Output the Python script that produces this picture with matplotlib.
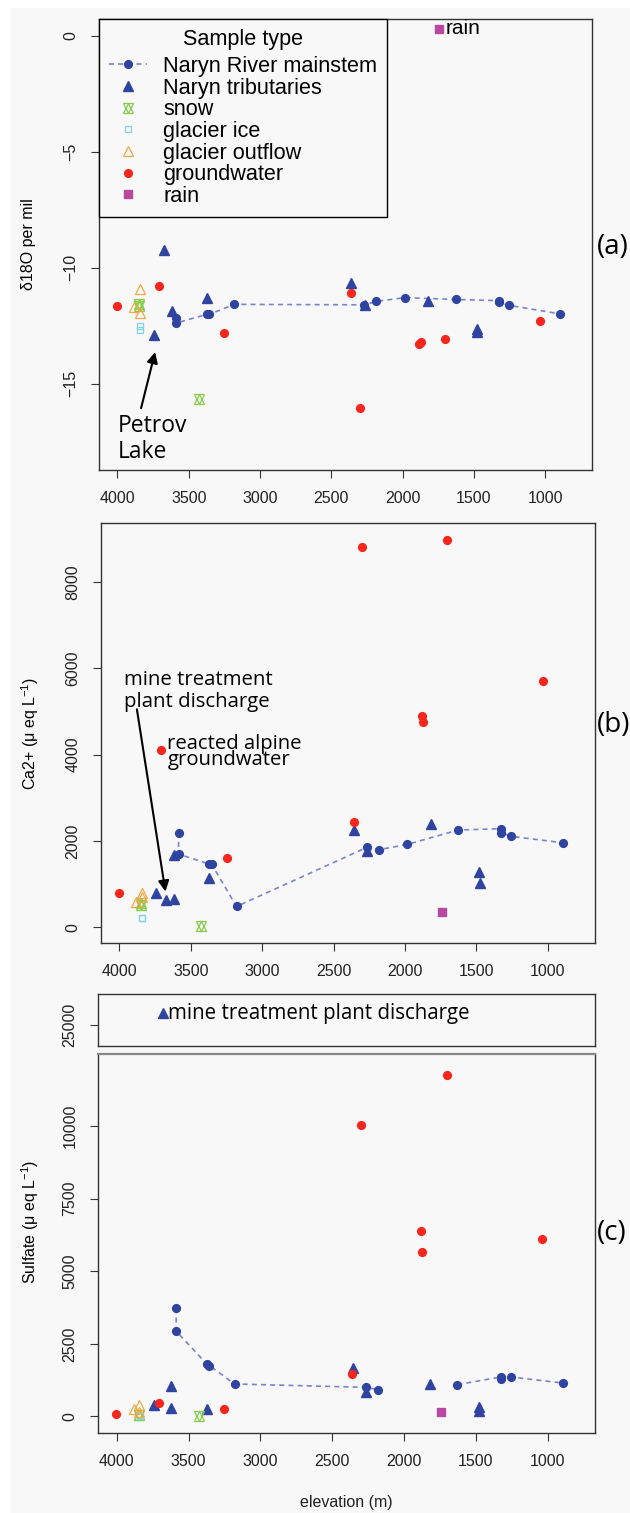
import numpy as np
import matplotlib
matplotlib.use('Agg')
import matplotlib.pyplot as plt
from matplotlib.lines import Line2D
from matplotlib.legend_handler import HandlerTuple
from matplotlib.patches import Rectangle

plt.rcParams['font.family'] = ['Liberation Sans', 'DejaVu Sans']
plt.rcParams['mathtext.fontset'] = 'custom'
plt.rcParams['mathtext.rm'] = 'Liberation Sans'
plt.rcParams['mathtext.it'] = 'Liberation Sans:italic'
plt.rcParams['axes.unicode_minus'] = True

nan = np.nan
# ---------------- data ----------------
main_elev = [3586, 3586, 3372, 3355, 3180, 2267, 2183, 1983, 1628, 1326, 1326, 1255, 895]
main_d18o = [-12.15, -12.38, -12.01, -12.01, -11.58, -11.60, -11.45, -11.29, -11.37, -11.42, -11.49, -11.62, -11.99]
main_ca = [2190, 1694, 1462, 1462, 480, 1849, 1795, 1919, 2251, 2282, 2190, 2104, 1957]
main_so4 = [3721, 2938, 1797, 1751, 1118, 1002, 922, nan, 1094, 1359, 1279, 1359, 1152]

trib_elev = [3741, 3675, 3620, 3620, 3370, 2358, 2265, 1819, 1479, 1478]
trib_d18o = [-12.89, -9.25, -11.85, nan, -11.29, -10.66, -11.59, -11.43, -12.66, -12.79]
trib_ca = [781, 627, 1671, 642, 1145, 2251, 1772, 2391, 1269, 1014]
trib_so4 = [400, 25600, 1048, 305, 265, 1682, 841, 1129, 323, 173]

snow_elev = [3847, 3847, 3430]
snow_d18o = [-11.58, -11.66, -15.65]
snow_ca = [511, 560, 23]
snow_so4 = [35, 60, 0]

ice_elev = [3839, 3839]
ice_d18o = [-12.53, -12.67]
ice_ca = [224, 224]
ice_so4 = [15, 15]

outflow_elev = [3844, 3881, 3844]
outflow_d18o = [-10.91, -11.71, -11.95]
outflow_ca = [800, 590, 690]
outflow_so4 = [380, 266, 150]

gw_elev = [4004, 3709, 3250, 2359, 2300, 1884, 1872, 1703, 1036]
gw_d18o = [-11.66, -10.77, -12.82, -11.07, -16.03, -13.29, -13.22, -13.06, -12.30]
gw_ca = [797, 4108, 1602, 2445, 8805, 4890, 4758, 8967, 5702]
gw_so4 = [69, 461, 265, 1475, 10035, 6371, 5645, 11774, 6106]

rain_elev = [1742]
rain_d18o = [0.31]
rain_ca = [341]
rain_so4 = [150]

elev_ticks = [4000, 3500, 3000, 2500, 2000, 1500, 1000]

# ---------------- style ----------------
BLUE = '#2F43A0'
LINE = '#7B83CC'
RED = '#F7261D'
GREEN = '#86CC4A'
CYAN = '#80D4E6'
ORANGE = '#F4A845'
MAG = '#B8479F'
BG = '#f8f8f8'
ANNOT_FONT = ['Open Sans', 'DejaVu Sans']

W, H = 630, 1513
fig = plt.figure(figsize=(W / 100, H / 100), dpi=100, facecolor='white')
fig.patches.append(Rectangle((10 / W, 0), 1, 1 - 8 / H, transform=fig.transFigure,
                             facecolor=BG, edgecolor='none', zorder=-10))


def pos(l, t, r, b):
    return [l / W, 1 - b / H, (r - l) / W, (b - t) / H]


def style_axes(ax, xlabels=True):
    ax.set_facecolor(BG)
    for s in ax.spines.values():
        s.set_color('#333333')
        s.set_linewidth(1.0)
    ax.set_xlim(4128, 672)
    ax.tick_params(axis='both', length=6, width=0.8, color='#333333',
                   labelsize=11.5, pad=9, labelcolor='#222222')
    ax.tick_params(axis='y', labelrotation=90)
    for lab in ax.get_yticklabels():
        lab.set_va('center')
    if xlabels:
        ax.set_xticks(elev_ticks)
    else:
        ax.set_xticks([])


def draw_points(ax, m, t, s, i, o, g, r):
    ax.plot(main_elev, m, ls=(0, (3, 2.5)), color=LINE, lw=1.2, zorder=2)
    ax.plot(main_elev, m, 'o', ls='none', color=BLUE, ms=5.6, zorder=3)
    ax.plot(trib_elev, t, '^', ls='none', color=BLUE, ms=6.8, zorder=3)
    ax.plot(snow_elev, s, '^', ls='none', mfc='none', mec=GREEN, ms=7, mew=0.9, zorder=3)
    ax.plot(snow_elev, s, 'v', ls='none', mfc='none', mec=GREEN, ms=7, mew=0.9, zorder=3)
    ax.plot(ice_elev, i, 's', ls='none', mfc='none', mec=CYAN, ms=5, mew=0.9, zorder=3)
    ax.plot(outflow_elev, o, '^', ls='none', mfc='none', mec=ORANGE, ms=7, mew=0.9, zorder=3)
    ax.plot(gw_elev, g, 'o', ls='none', color=RED, ms=5.6, zorder=3)
    ax.plot(rain_elev, r, 's', ls='none', color=MAG, ms=5.2, zorder=3)


# ---------------- panel (a) ----------------
axa = fig.add_axes(pos(99.2, 19, 591.8, 470))
draw_points(axa, main_d18o, trib_d18o, snow_d18o, ice_d18o, outflow_d18o, gw_d18o, rain_d18o)
axa.set_ylim(-18.72, 0.72)
axa.set_yticks([0, -5, -10, -15])
style_axes(axa)
axa.set_ylabel('δ18O per mil', fontsize=11.5, va='center')
axa.yaxis.set_label_coords((29 - 99.2) / 492.6, 0.5)
axa.text(rain_elev[0] - 45, rain_d18o[0], 'rain', fontsize=15, va='center', ha='left')
axa.annotate('', xy=(3731, -13.52), xytext=(3839, -16.17),
             arrowprops=dict(arrowstyle='-|>', lw=1.5, color='black', mutation_scale=16))
axa.text(3995, -16.3, 'Petrov\nLake', fontsize=16.5, va='top', ha='left',
         family=ANNOT_FONT, linespacing=1.1)
fig.text(597 / W, 1 - 247 / H, '(a)', fontsize=20, va='center', ha='left', family=ANNOT_FONT)

h_main = Line2D([], [], ls=(0, (3, 2.5)), color=LINE, lw=1.2, marker='o', mfc=BLUE, mec=BLUE, ms=5.6)
h_trib = Line2D([], [], ls='none', marker='^', color=BLUE, ms=6.8)
h_snow = (Line2D([], [], ls='none', marker='^', mfc='none', mec=GREEN, ms=7, mew=0.9),
          Line2D([], [], ls='none', marker='v', mfc='none', mec=GREEN, ms=7, mew=0.9))
h_ice = Line2D([], [], ls='none', marker='s', mfc='none', mec=CYAN, ms=5, mew=0.9)
h_out = Line2D([], [], ls='none', marker='^', mfc='none', mec=ORANGE, ms=7, mew=0.9)
h_gw = Line2D([], [], ls='none', marker='o', color=RED, ms=5.6)
h_rain = Line2D([], [], ls='none', marker='s', color=MAG, ms=5.2)
leg = axa.legend([h_main, h_trib, h_snow, h_ice, h_out, h_gw, h_rain],
                 ['Naryn River mainstem', 'Naryn tributaries', 'snow', 'glacier ice',
                  'glacier outflow', 'groundwater', 'rain'],
                 title='Sample type', loc='upper left', bbox_to_anchor=(0, 1),
                 borderaxespad=0, fontsize=15.6, title_fontsize=15.6,
                 frameon=True, fancybox=False, edgecolor='black', facecolor=BG,
                 framealpha=1, labelspacing=0.03, handlelength=1.75, handletextpad=0.75,
                 borderpad=0.45, handler_map={tuple: HandlerTuple(ndivide=1, pad=0)})
leg._legend_box.sep = 4.5
leg.get_frame().set_linewidth(1.0)
leg.set_zorder(5)

# ---------------- panel (b) ----------------
axb = fig.add_axes(pos(101.2, 523.3, 594.6, 942.7))
draw_points(axb, main_ca, trib_ca, snow_ca, ice_ca, outflow_ca, gw_ca, rain_ca)
axb.set_ylim(-360, 9360)
axb.set_yticks([0, 2000, 4000, 6000, 8000])
style_axes(axb)
axb.set_ylabel('Ca2+ (μ eq L$^{-1}$)', fontsize=11.5, va='center')
axb.yaxis.set_label_coords((30 - 101.2) / 493.4, 0.5)
axb.annotate('', xy=(3675, 760), xytext=(3881, 5113),
             arrowprops=dict(arrowstyle='-|>', lw=1.5, color='black', mutation_scale=16))
axb.text(3966, 5950, 'mine treatment\nplant discharge', fontsize=14.7, va='top', ha='left',
         family=ANNOT_FONT, linespacing=1.08)
axb.text(3665, 4480, 'reacted alpine\ngroundwater', fontsize=14.6, va='top', ha='left',
         family=ANNOT_FONT, linespacing=0.76)
fig.text(597 / W, 1 - 725 / H, '(b)', fontsize=20, va='center', ha='left', family=ANNOT_FONT)

# ---------------- panel (c) ----------------
axc2 = fig.add_axes(pos(98.4, 994, 594.6, 1045.7))
draw_points(axc2, main_so4, trib_so4, snow_so4, ice_so4, outflow_so4, gw_so4, rain_so4)
axc2.set_ylim(24000, 26500)
axc2.set_yticks([25000])
style_axes(axc2, xlabels=False)
axc2.text(3645, 25550, 'mine treatment plant discharge', fontsize=14.8, va='center', ha='left',
          family=ANNOT_FONT)

axc = fig.add_axes(pos(98.4, 1054, 594.6, 1432.7))
draw_points(axc, main_so4, trib_so4, snow_so4, ice_so4, outflow_so4, gw_so4, rain_so4)
axc.set_ylim(-560, 12480)
axc.set_yticks([0, 2500, 5000, 7500, 10000])
style_axes(axc)
axc.spines['top'].set_color('#888888')
axc.spines['top'].set_linewidth(1.6)
axc.set_ylabel('Sulfate (μ eq L$^{-1}$)', fontsize=11.5, va='center')
axc.yaxis.set_label_coords((30 - 98.4) / 496.2, (1432.7 - 1222) / 378.7)
fig.text(597 / W, 1 - 1233 / H, '(c)', fontsize=20, va='center', ha='left', family=ANNOT_FONT)
fig.text(346.5 / W, 1 - 1502 / H, 'elevation (m)', fontsize=11.5, ha='center', va='center',
         color='#222222')

fig.savefig('out.png', dpi=100, facecolor=fig.get_facecolor())
